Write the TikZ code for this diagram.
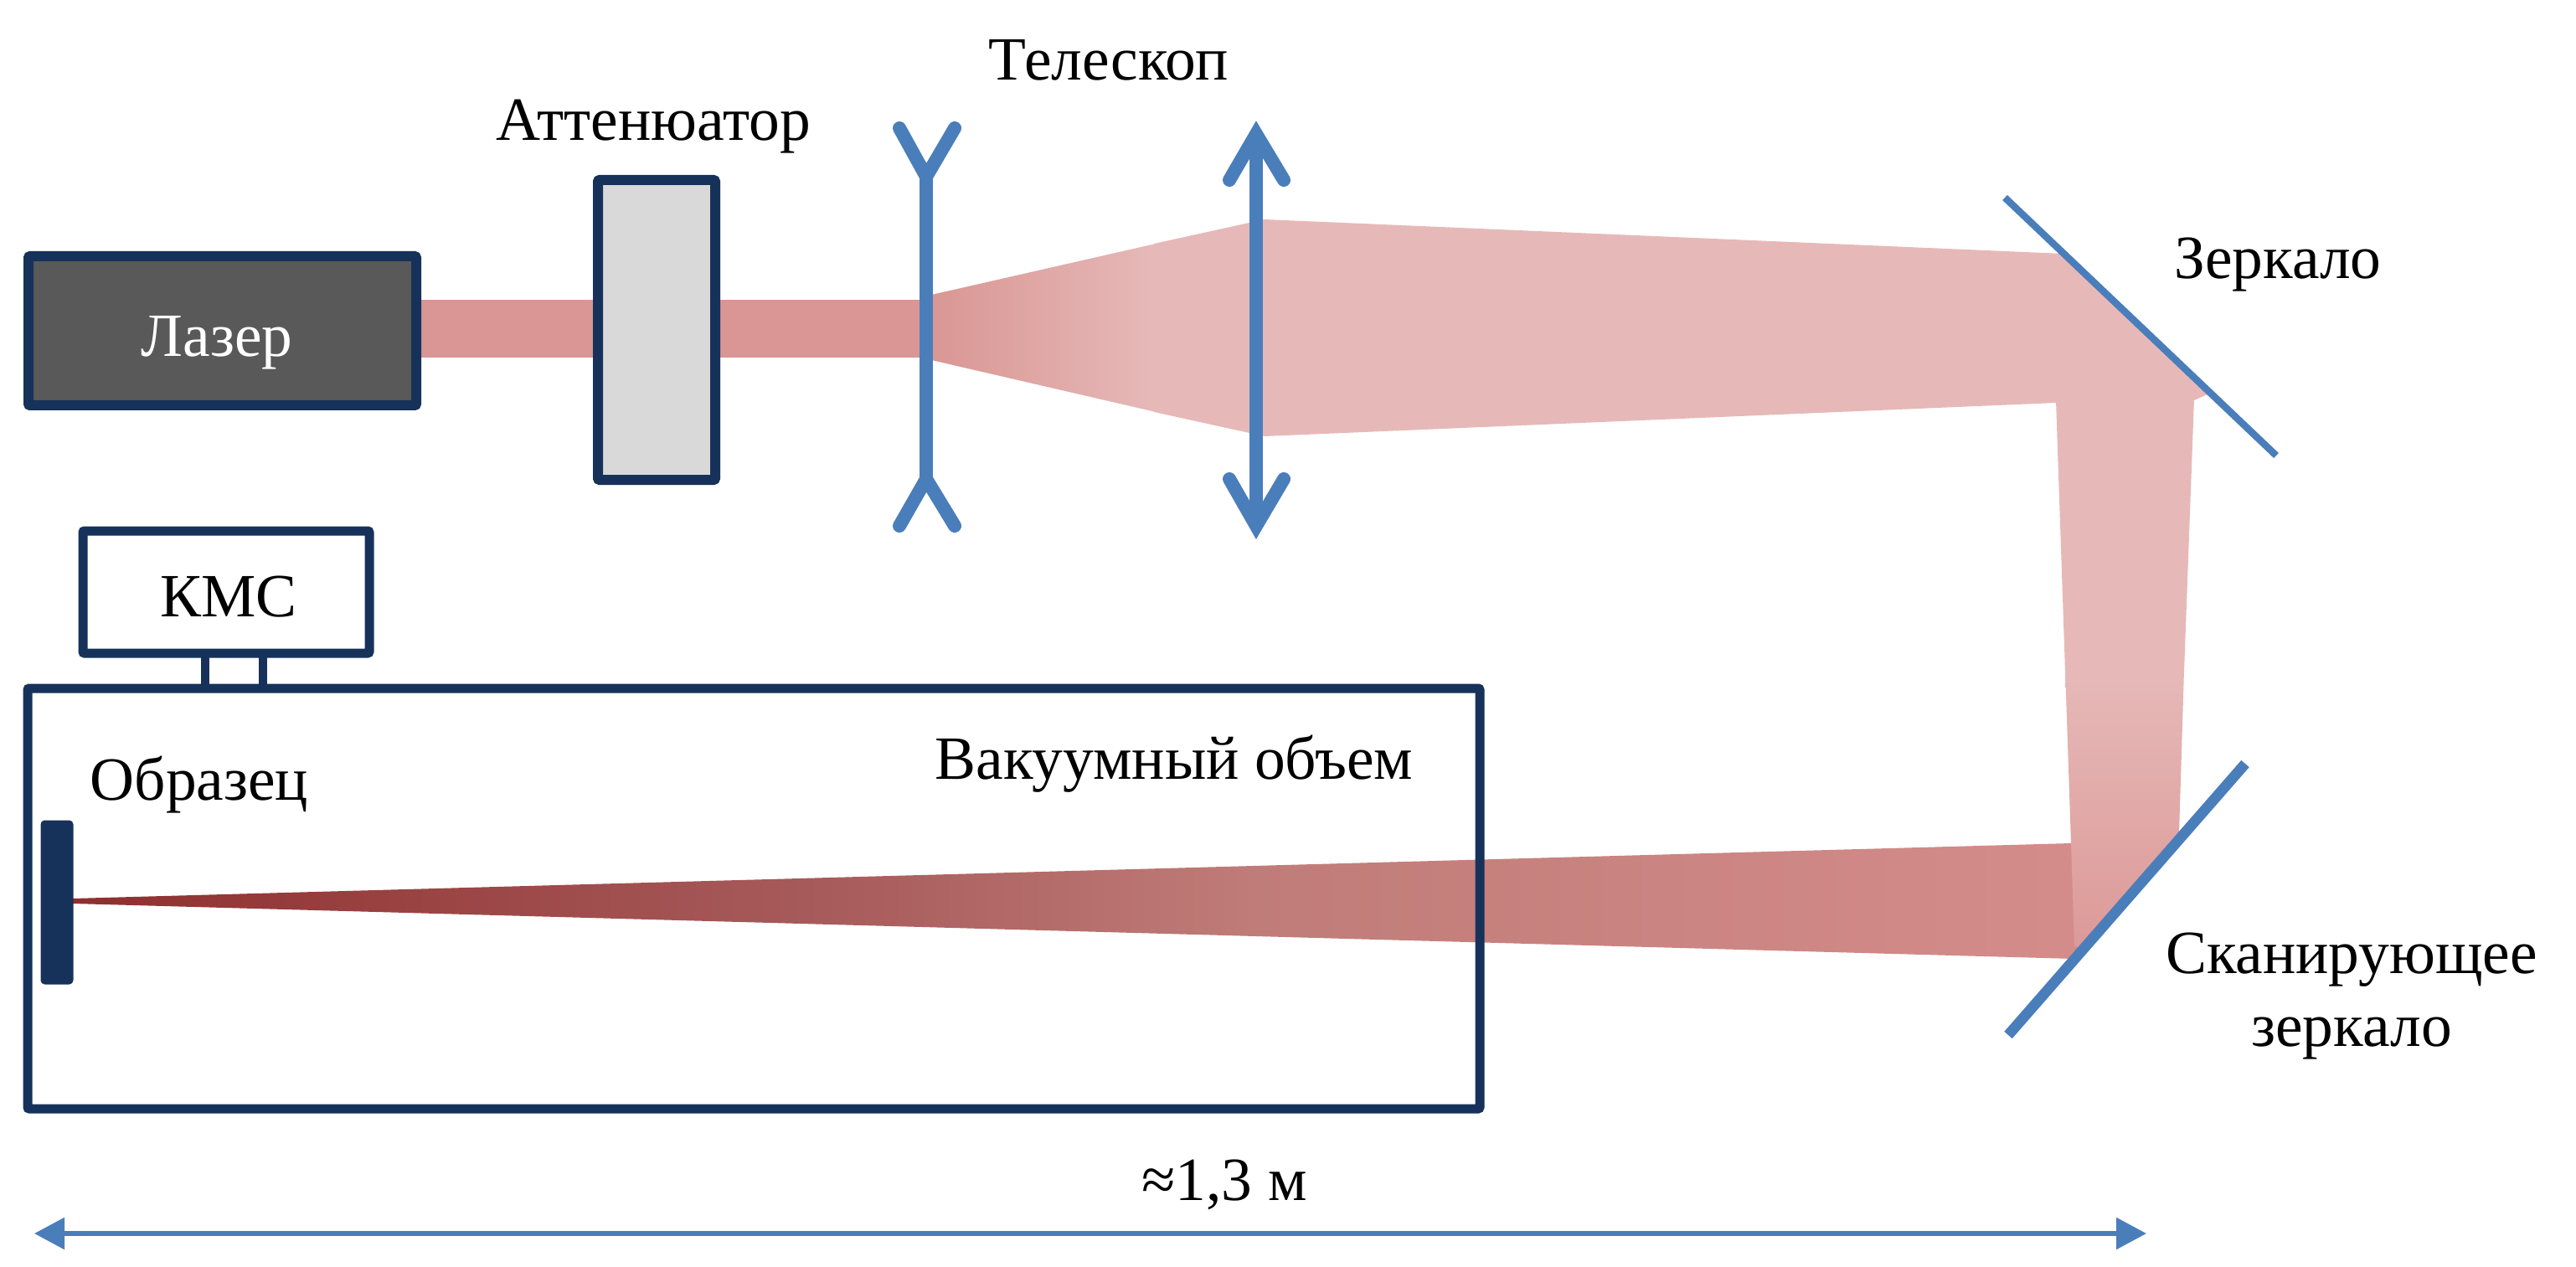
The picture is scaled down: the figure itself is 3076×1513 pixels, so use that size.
\documentclass[tikz,border=0pt]{standalone}
\usepackage{fontspec}
\setmainfont{Liberation Serif}
\usetikzlibrary{arrows.meta}
\definecolor{navy}{HTML}{17325A}
\definecolor{optic}{HTML}{4A7EBB}
\definecolor{beamA}{HTML}{D99694}
\definecolor{beamB}{HTML}{E6B9B8}
\definecolor{beamC}{HTML}{8F2F2F}
\definecolor{lowM}{HTML}{A85C5C}
\definecolor{lowN}{HTML}{C07C78}
\definecolor{lowE}{HTML}{D58D8B}
\definecolor{vertE}{HTML}{DC9A98}
\pgfdeclarehorizontalshading{lowbeam}{100bp}{color(0bp)=(beamC);color(25bp)=(beamC);color(43.8bp)=(lowM);color(54bp)=(lowN);color(75bp)=(lowE);color(100bp)=(lowE)}
\tikzset{
  x=0.5pt,y=-0.5pt,
  lbl/.style={anchor=base,inner sep=0pt,font=\fontsize{36.7}{43.5}\selectfont},
  box/.style={draw=navy,line width=5.5pt,rounded corners=1pt,inner sep=0pt,outer sep=0pt},
  lens/.style={draw=optic,line width=8pt,line cap=round,miter limit=10},
  mirror/.style={draw=optic},
}
\begin{document}
\begin{tikzpicture}
\useasboundingbox (0,0) rectangle (3076,1513);
% beams
\fill[beamA] (500,358) rectangle (1108,427);
\shade[left color=beamA,right color=beamB] (1108,353) -- (1380,291) -- (1380,492) -- (1108,429) -- cycle;
\fill[beamB] (1378,291) -- (1510,262) -- (2464,303) -- (2638,470) -- (2620,478) -- (2455,481) -- (1510,521) -- (1378,492) -- cycle;
\shade[shading=lowbeam] (87,1073) -- (2473,1007) -- (2520,1007) -- (2477,1145) -- (87,1079) -- cycle;
\fill[beamB] (2455,479) -- (2620,476) -- (2608,802) -- (2466,802) -- cycle;
\shade[top color=beamB,bottom color=vertE] (2466,800) -- (2608,800) -- (2602,995) -- (2489,1130) -- (2477,1130) -- (2473,1007) -- cycle;
% instruments
\node[box,fill=black!65,line width=6pt,minimum width=463pt*0.5,minimum height=178pt*0.5] (laser) at (265.5,395) {};
\node[box,fill=black!15,line width=6pt,minimum width=140pt*0.5,minimum height=358pt*0.5] (att) at (784,394) {};
\node[box,minimum width=1734pt*0.5,minimum height=502pt*0.5] (vac) at (900,1073) {};
\node[box,fill=white,minimum width=342pt*0.5,minimum height=146pt*0.5] (kms) at (270,707) {};
\node[draw=navy,fill=navy,line width=1pt,rounded corners=2pt,inner sep=0pt,minimum width=37pt*0.5,minimum height=194pt*0.5] (sample) at (68,1077.5) {};
\coordinate (legAt) at (245,822);
\coordinate (legAk) at (245,780);
\coordinate (legBt) at (314,822);
\coordinate (legBk) at (314,780);
\draw[navy,line width=5pt] (legAk) -- (legAt);
\draw[navy,line width=5pt] (legBk) -- (legBt);
% concave lens
\coordinate (cTop) at (1106,211);
\coordinate (cBot) at (1106,572);
\draw[lens] (cTop) -- (cBot);
\draw[lens] (1074,153) -- (cTop) -- (1140,153);
\draw[lens] (1074,628) -- (cBot) -- (1140,628);
% convex lens
\coordinate (vTop) at (1500,160);
\coordinate (vBot) at (1500,628);
\draw[lens,line cap=butt] (vTop) -- (vBot);
\draw[lens] (1468,215) -- (vTop) -- (1533,215);
\draw[lens] (1468,572) -- (vBot) -- (1533,572);
% mirrors
\coordinate (m1a) at (2394,236);
\coordinate (m1b) at (2718,544);
\coordinate (m2a) at (2681,912);
\coordinate (m2b) at (2398,1236);
\draw[mirror,line width=4.2pt] (m1a) -- (m1b);
\draw[mirror,line width=6.3pt] (m2a) -- (m2b);
% dimension arrow
\coordinate (dimL) at (41,1473);
\coordinate (dimR) at (2563,1473);
\draw[optic,line width=2.8pt,{Triangle[length=18pt,width=18.5pt]}-{Triangle[length=18pt,width=18.5pt]}] (dimL) -- (dimR);
% labels
\node[lbl] (t1) at (1324,96) {Телескоп};
\node[lbl] (t2) at (780,168) {Аттенюатор};
\node[lbl,text=white] (t3) at (259,426) {Лазер};
\node[lbl] (t4) at (273,736) {КМС};
\node[lbl] (t5) at (238,955) {Образец};
\node[lbl] (t6) at (2720,333) {Зеркало};
\node[lbl,align=center,anchor=center] (t7) at (2808,1190) {Сканирующее\\зеркало};
\node[lbl] (t8) at (1402,930) {Вакуумный объем};
\node[lbl] (t9) at (1462,1433) {≈1,3 м};
\end{tikzpicture}
\end{document}
